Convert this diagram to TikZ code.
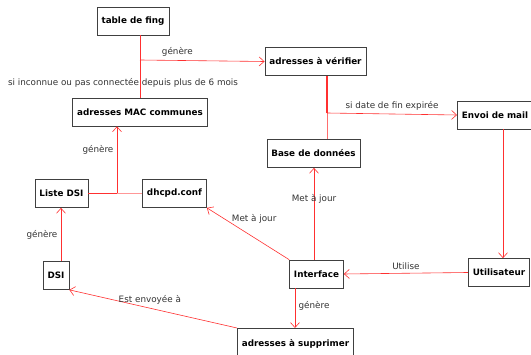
\documentclass[tikz,border=0pt]{standalone}
\usepackage{fontspec}
\setmainfont{DejaVu Sans}
\usetikzlibrary{arrows.meta}
\definecolor{rougelien}{HTML}{FF3030}
\definecolor{texte}{HTML}{333333}

\begin{document}
\begin{tikzpicture}[x=1pt,y=-1pt,
    boite/.style={draw=black!75, line width=0.7pt, fill=white, font=\fontsize{8.8}{10}\selectfont\bfseries,
        inner xsep=4.5pt, minimum height=28pt},
    lien/.style={draw=rougelien, line width=0.6pt},
    fl/.style={lien, -{Straight Barb[length=5pt,width=9pt]}},
    etiq/.style={text=texte, font=\fontsize{8.8}{10}\selectfont}]
    \useasboundingbox (0,0) rectangle (531,355);

    \node[boite] (fing) at (133,21) {table de fing};
    \node[boite] (mac) at (140,112) {adresses MAC communes};
    \node[boite] (verif) at (315.5,61.5) {adresses à vérifier};
    \node[boite, anchor=west, text width=75pt] (envoi) at (457,115) {Envoi de mail};
    \node[boite] (bdd) at (313.5,153.5) {Base de données};
    \node[boite] (liste) at (61.5,193.5) {Liste DSI};
    \node[boite] (dhcpd) at (174.5,193.5) {dhcpd.conf};
    \node[boite] (dsi) at (56,275.5) {DSI};
    \node[boite] (interface) at (316.5,274) {Interface};
    \node[boite] (util) at (499,272.5) {Utilisateur};
    \node[boite, anchor=north, minimum height=32pt] (suppr) at (295.5,328) {adresses à supprimer};

    \coordinate (j1) at (140,60);
    \coordinate (j2) at (327,113);
    \coordinate (j3) at (117,193.5);

    % table de fing -> adresses
    \draw[lien] (fing.south -| mac.north) -- node[etiq, pos=0.77, xshift=-17pt] {si inconnue ou pas connectée depuis plus de 6 mois} (mac.north);
    \draw[fl] (j1) -- node[etiq, above, pos=0.3] {génère} (verif.west);

    % adresses a verifier
    \draw[lien, line width=1.2pt] (verif.south -| j2) -- (j2);
    \draw[lien, draw=rougelien!70] (j2) -- (bdd.north -| j2);
    \draw[fl] (j2) -- node[etiq, above, pos=0.5] {si date de fin expirée} (envoi.west);
    \draw[fl] (envoi.south -| 503,0) -- (util.north -| 503,0);
    \draw[fl] (util.west) -- node[etiq, above] {Utilise} (interface.east);

    % interface
    \draw[fl] (interface.north -| 314,0) -- node[etiq, pos=0.66] {Met à jour} (bdd.south -| 314,0);
    \draw[fl] (interface.north west) -- node[etiq, anchor=west, pos=0.74, yshift=2pt] {Met à jour} (dhcpd.south east);
    \draw[fl] (interface.south -| 295,0) -- node[etiq, right, pos=0.45] {génère} (suppr.north -| 295,0);
    \draw[fl] (suppr.north west) -- node[etiq, above, pos=0.52] {Est envoyée à} (dsi.south east);

    % DSI
    \draw[fl] (dsi.north -| 61,0) -- node[etiq, left] {génère} (liste.south -| 61,0);
    \draw[lien, line width=1.2pt] (liste.east) -- (j3);
    \draw[lien, draw=rougelien!50] (dhcpd.west) -- (j3);
    \draw[fl] (j3) -- node[etiq, left, pos=0.65] {génère} (mac.south -| j3);
\end{tikzpicture}
\end{document}
